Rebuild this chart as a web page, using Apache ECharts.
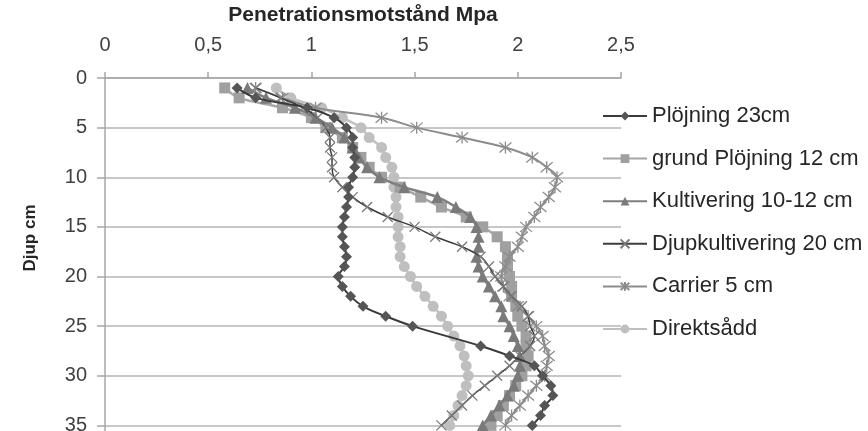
<!DOCTYPE html>
<html>
<head>
<meta charset="utf-8">
<script src="https://cdn.jsdelivr.net/npm/echarts@6/dist/echarts.min.js"></script>
<style>
html,body{margin:0;padding:0;background:#fff;}
#chart{width:868px;height:431px;}
</style>
</head>
<body>
<div id="chart"></div>
<script>
const depths = [1,2,3,4,5,6,7,8,9,10,11,12,13,14,15,16,17,18,19,20,21,22,23,24,25,26,27,28,29,30,31,32,33,34,35];
const plojning23 = [0.64,0.73,0.98,1.11,1.17,1.20,1.20,1.21,1.21,1.20,1.18,1.18,1.17,1.16,1.15,1.15,1.16,1.17,1.16,1.13,1.15,1.19,1.25,1.36,1.49,null,1.82,1.96,2.08,2.12,2.16,2.17,2.13,2.11,2.07];
const grundPlojning12 = [0.58,0.65,0.86,1.00,1.07,1.15,1.20,1.24,1.28,1.34,1.43,1.53,1.63,1.75,1.83,1.90,1.94,1.95,1.95,1.96,1.97,1.97,1.99,2.00,2.02,2.04,2.04,2.05,2.04,2.02,1.99,1.96,1.93,1.90,1.87];
const kultivering1012 = [0.69,0.78,0.92,1.02,1.10,1.16,1.20,1.23,1.27,1.33,1.45,1.61,1.70,1.77,1.80,1.81,1.81,1.80,1.81,1.83,1.86,1.89,1.92,1.93,1.96,1.98,2.00,2.01,2.01,2.00,1.98,1.95,1.91,1.87,1.83];
const djupkultivering20 = [0.73,0.85,0.96,1.03,1.07,1.09,1.09,1.10,1.10,1.11,1.15,1.20,1.27,1.37,1.50,1.60,1.73,1.82,1.86,1.89,1.93,1.97,2.02,2.05,2.06,2.08,2.06,2.01,1.96,1.90,1.84,1.78,1.73,1.68,1.63];
const carrier5 = [0.73,0.86,1.02,1.34,1.51,1.73,1.94,2.07,2.14,2.19,2.18,2.15,2.11,2.08,2.04,2.02,2.00,1.96,1.94,1.92,1.93,1.96,2.00,2.05,2.09,2.12,2.13,2.15,2.14,2.13,2.09,2.05,2.01,1.97,1.94];
const direktsadd = [0.83,0.90,1.05,1.15,1.24,1.28,1.34,1.36,1.39,1.40,1.40,1.41,1.41,1.42,1.42,1.42,1.43,1.43,1.45,1.48,1.51,1.55,1.59,1.63,1.66,1.69,1.72,1.74,1.75,1.76,1.75,1.73,1.71,1.69,1.67];
const seriesNames = ['Plöjning 23cm','grund Plöjning 12 cm','Kultivering 10-12 cm','Djupkultivering 20 cm','Carrier 5 cm','Direktsådd'];
const xTickLabels = ['0','0,5','1','1,5','2','2,5'];

function pairs(vals){ return vals.map((v,i)=> v==null ? [null, depths[i]] : [v, depths[i]]); }

const FONT = 'Liberation Sans';
const xPath = 'path://M0,0L10,10M10,0L0,10';
const starPath = 'path://M0,0L10,10M10,0L0,10M5,-1L5,11';

const chart = echarts.init(document.getElementById('chart'));
chart.setOption({
  animation:false,
  backgroundColor:'#fff',
  textStyle:{fontFamily:FONT},
  grid:{left:105, top:78, width:516, height:397, containLabel:false, outerBoundsMode:'none'},
  legend:{
    orient:'vertical', left:597, top:100, itemGap:20.6, itemWidth:44, itemHeight:11,
    textStyle:{fontFamily:FONT, fontSize:22, color:'#262626'},
    data: seriesNames
  },
  graphic:[{
    type:'text', x:30, y:238, rotation:Math.PI/2,
    style:{text:'Djup cm', font:'bold 17px "Liberation Sans"', fill:'#262626', align:'center', verticalAlign:'middle'}
  }],
  xAxis:{
    type:'value', position:'top', min:0, max:2.5, interval:0.5,
    name:'Penetrationsmotstånd Mpa', nameLocation:'middle', nameGap:52,
    nameTextStyle:{fontFamily:FONT, fontSize:21, fontWeight:'bold', color:'#262626'},
    axisLine:{show:true, onZero:false, lineStyle:{color:'#a6a6a6', width:1.5}},
    axisTick:{show:true, length:6, lineStyle:{color:'#a6a6a6', width:1.5}},
    axisLabel:{fontFamily:FONT, fontSize:20, color:'#404040', margin:23,
      formatter:(v)=> xTickLabels[Math.round(v/0.5)] },
    splitLine:{show:false}
  },
  yAxis:{
    type:'value', inverse:true, min:0, max:40, interval:5,
    axisLine:{show:true, lineStyle:{color:'#a6a6a6', width:1.5}},
    axisTick:{show:true, length:8, lineStyle:{color:'#a6a6a6', width:1.5}},
    axisLabel:{fontFamily:FONT, fontSize:20, color:'#404040', margin:18},
    splitLine:{show:true, lineStyle:{color:'#b4b4b4', width:1.5}}
  },
  series:[
    {name:seriesNames[0], type:'line', data:pairs(plojning23), connectNulls:true, smooth:0.35,
      symbol:'diamond', symbolSize:11, lineStyle:{color:'#3a3a3a', width:2}, itemStyle:{color:'#555555'}, z:6},
    {name:seriesNames[1], type:'line', data:pairs(grundPlojning12), smooth:0.35,
      symbol:'rect', symbolSize:11, lineStyle:{color:'#a6a6a6', width:2.5}, itemStyle:{color:'#a0a0a0'}, z:3},
    {name:seriesNames[2], type:'line', data:pairs(kultivering1012), smooth:0.35,
      symbol:'triangle', symbolSize:12, lineStyle:{color:'#7f7f7f', width:2.5}, itemStyle:{color:'#7a7a7a'}, z:4},
    {name:seriesNames[3], type:'line', data:pairs(djupkultivering20), smooth:0.35,
      symbol:xPath, symbolSize:10, lineStyle:{color:'#3c3c3c', width:1.5}, itemStyle:{color:'none', borderColor:'#7a7a7a', borderWidth:1.3}, z:5},
    {name:seriesNames[4], type:'line', data:pairs(carrier5), smooth:0.35,
      symbol:starPath, symbolSize:12, lineStyle:{color:'#8c8c8c', width:2}, itemStyle:{color:'none', borderColor:'#8c8c8c', borderWidth:1.3}, z:4},
    {name:seriesNames[5], type:'line', data:pairs(direktsadd), smooth:0.35,
      symbol:'circle', symbolSize:11, lineStyle:{color:'#c0c0c0', width:2.5}, itemStyle:{color:'#bfbfbf'}, z:2}
  ]
});
</script>
</body>
</html>
